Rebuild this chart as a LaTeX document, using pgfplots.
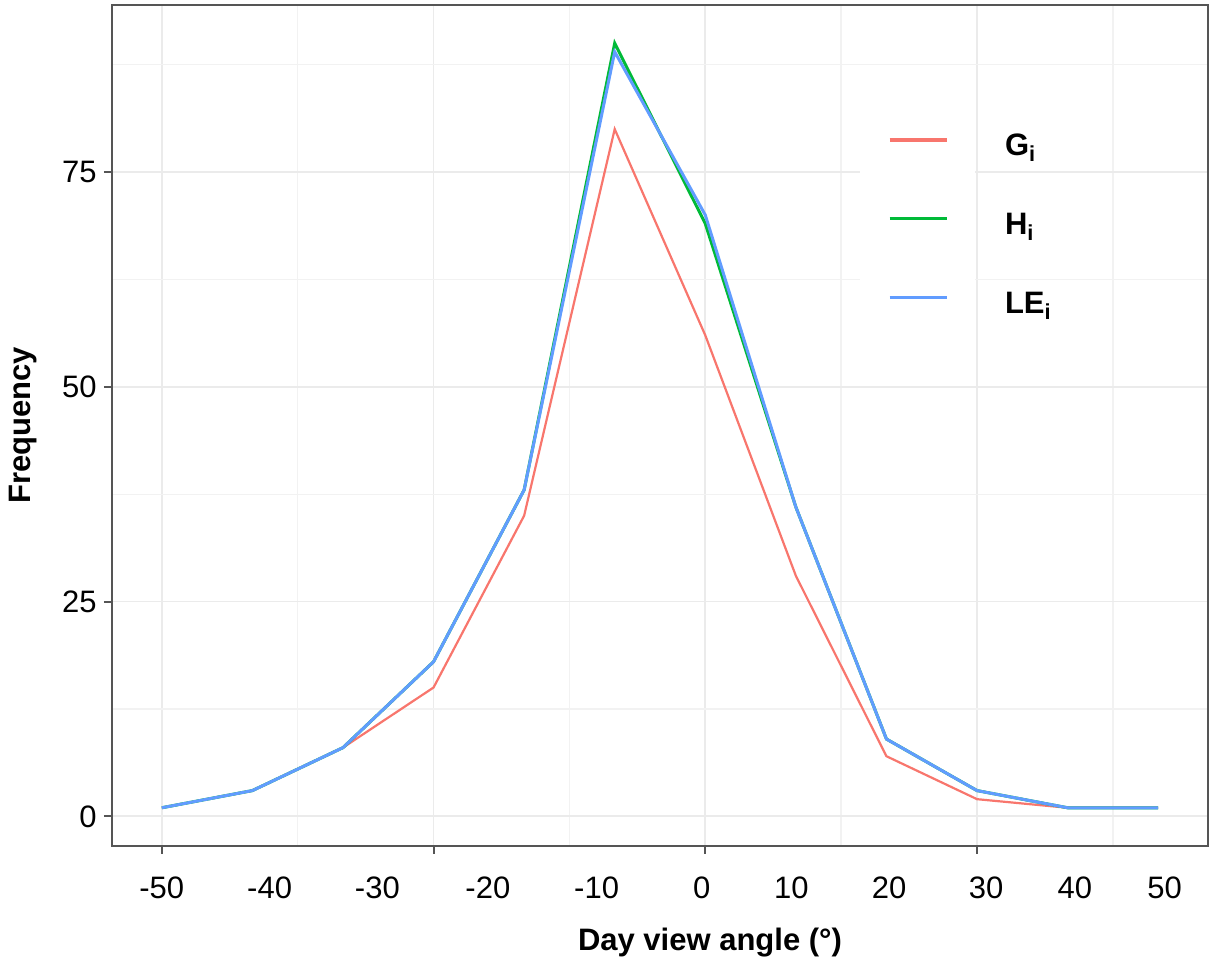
\documentclass[border=0pt]{standalone}
\usepackage{pgfplots}
\pgfplotsset{compat=1.18}
\usepackage{fontspec}
\setmainfont{Liberation Sans}
\definecolor{cred}{HTML}{F8766D}
\definecolor{cgreen}{HTML}{00BA38}
\definecolor{cblue}{HTML}{619CFF}
\definecolor{framegray}{HTML}{555555}
\definecolor{gridmaj}{HTML}{EBEBEB}
\definecolor{gridmin}{HTML}{F2F2F2}
\pgfplotstableread{
x G H LE
0 1 1 1
1 3 3 3
2 8 8 8
3 15 18 18
4 35 38 38
5 80 90 89
6 56 69 70
7 28 36 36
8 7 9 9
9 2 3 3
10 1 1 1
11 1 1 1
}\datatable
\begin{document}
\begin{tikzpicture}
\useasboundingbox (-56pt,-61.5pt) rectangle (552pt,423pt);
\begin{axis}[
  scale only axis, width=548pt, height=420.5pt,
  xmin=-0.55, xmax=11.55, ymin=-3.45, ymax=94.45,
  axis line style={draw=framegray, line width=1pt},
  xtick={0,3,6,9}, xticklabels={},
  ytick={0,25,50,75}, yticklabels={0,25,50,75},
  minor xtick={1.5,4.5,7.5,10.5}, minor ytick={12.5,37.5,62.5,87.5},
  grid=both,
  major grid style={draw=gridmaj, line width=0.9pt},
  minor grid style={draw=gridmin, line width=0.7pt},
  tick align=outside, major tick length=4pt, minor tick length=0pt,
  tick style={draw=framegray, line width=1pt},
  tick pos=left,
  ticklabel style={font=\fontsize{15.5}{18}\selectfont, inner sep=0pt},
  yticklabel style={xshift=-3.5pt},
  extra x ticks={0,1.19,2.38,3.60,4.80,5.96,6.95,8.03,9.10,10.08,11.07},
  extra x tick labels={-50,-40,-30,-20,-10,0,10,20,30,40,50},
  extra x tick style={grid=none, major tick length=0pt,
    xticklabel style={anchor=base, yshift=-26.5pt}},
  xlabel={Day view angle (°)},
  ylabel={Frequency},
  label style={font=\fontsize{15.5}{18}\selectfont\bfseries},
  xlabel style={at={(axis description cs:0.5456,-0.1237)}, anchor=base},
  ylabel style={at={(axis description cs:-0.0748,0.5)}, anchor=base},
  legend style={at={(axis description cs:0.6825,0.886)}, anchor=north west,
    draw=none, fill=none, inner sep=0pt, outer sep=0pt,
    row sep=0pt, column sep=15pt,
    nodes={inner sep=0pt, anchor=base west},
    font=\fontsize{15.5}{18}\selectfont\bfseries},
  legend cell align=left,
  legend image code/.code={
    \fill[white] (0pt,-19pt) rectangle (56pt,19pt);
    \draw[#1, line width=1.6pt] (14pt,0pt) -- (42.5pt,0pt);
  },
]
\addplot[cred, line width=1.1pt] table[x=x, y=G] {\datatable};
\addlegendentry{\raisebox{-8pt}{G\textsubscript{i}}}
\addplot[cgreen, line width=1.5pt] table[x=x, y=H] {\datatable};
\addlegendentry{\raisebox{-8pt}{H\textsubscript{i}}}
\addplot[cblue, line width=1.5pt] table[x=x, y=LE] {\datatable};
\addlegendentry{\raisebox{-8pt}{LE\textsubscript{i}}}
\end{axis}
\end{tikzpicture}
\end{document}
